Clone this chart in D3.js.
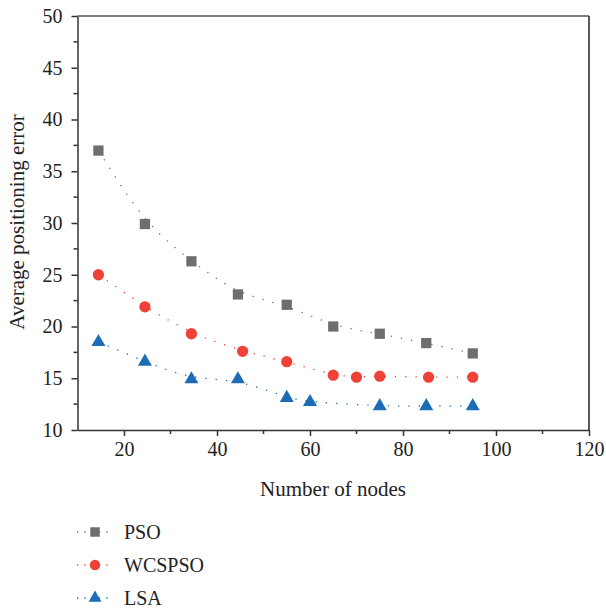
<!DOCTYPE html>
<html>
<head>
<meta charset="utf-8">
<script src="https://cdn.jsdelivr.net/npm/d3@7"></script>
<style>
  body { margin: 0; background: #fff; }
</style>
</head>
<body>
<div id="chart"></div>
<script>
// data
var psoX = [14.5, 24.5, 34.5, 44.5, 55, 65, 75, 85, 95];
var psoY = [37, 29.9, 26.3, 23.1, 22.1, 20.0, 19.3, 18.4, 17.4];

var wcsX = [14.5, 24.5, 34.5, 45.5, 55, 65, 70, 75, 85.5, 95];
var wcsY = [25, 21.9, 19.3, 17.6, 16.6, 15.3, 15.1, 15.2, 15.1, 15.1];

var lsaX = [14.5, 24.5, 34.5, 44.5, 55, 60, 75, 85, 95];
var lsaY = [18.5, 16.6, 14.9, 14.9, 13.1, 12.7, 12.3, 12.3, 12.3];

var xTicks = [20, 40, 60, 80, 100, 120];
var yTicks = [10, 15, 20, 25, 30, 35, 40, 45, 50];
var seriesNames = ["PSO", "WCSPSO", "LSA"];

var width = 606;
var height = 608;
var margin = { left: 77.5, right: 17, top: 16, bottom: 178 };
var font = "Liberation Serif";

var svg = d3.select('#chart')
    .append('svg')
    .attr('width', width)
    .attr('height', height);

var x = d3.scaleLinear()
    .domain([10, 120])
    .range([margin.left, width - margin.right]);
var y = d3.scaleLinear()
    .domain([10, 50])
    .range([height - margin.bottom, margin.top]);

var axisColor = "#333";

// frame: top and right lines
svg.append("line")
    .attr("x1", x(10)).attr("x2", x(120))
    .attr("y1", y(50)).attr("y2", y(50))
    .attr("stroke", "#555").attr("stroke-width", 1.5);
svg.append("line")
    .attr("x1", x(120)).attr("x2", x(120))
    .attr("y1", y(50)).attr("y2", y(10))
    .attr("stroke", "#222").attr("stroke-width", 1.5);

// bottom axis
var xAxis = svg.append("g")
    .attr("transform", "translate(0," + y(10) + ")")
    .call(d3.axisBottom(x).tickValues(xTicks).tickSize(6).tickPadding(6).tickSizeOuter(0));
xAxis.attr("font-family", font);
xAxis.selectAll("text").attr("font-size", 20).attr("fill", "#222");
// minor ticks
xAxis.selectAll(".minor")
    .data(d3.range(10, 121, 10).filter(d => xTicks.indexOf(d) < 0 && d !== 10))
    .enter().append("line")
    .attr("class", "minor")
    .attr("x1", d => x(d)).attr("x2", d => x(d))
    .attr("y1", 0).attr("y2", 4)
    .attr("stroke", axisColor).attr("stroke-width", 1.5);

// left axis
var yAxis = svg.append("g")
    .attr("transform", "translate(" + x(10) + ",0)")
    .call(d3.axisLeft(y).tickValues(yTicks).tickSize(6).tickPadding(9).tickSizeOuter(0));
yAxis.attr("font-family", font);
yAxis.selectAll("text").attr("font-size", 20).attr("fill", "#222");
yAxis.selectAll(".minor")
    .data(d3.range(12.5, 50, 5))
    .enter().append("line")
    .attr("class", "minor")
    .attr("x1", 0).attr("x2", -4)
    .attr("y1", d => y(d)).attr("y2", d => y(d))
    .attr("stroke", axisColor).attr("stroke-width", 1.5);

svg.selectAll(".domain, .tick line").attr("stroke", axisColor).attr("stroke-width", 1.5);

// axis titles
svg.append("text")
    .attr("x", 333)
    .attr("y", 496)
    .attr("text-anchor", "middle")
    .attr("font-family", font)
    .attr("font-size", 21)
    .attr("fill", "#222")
    .text("Number of nodes");

svg.append("text")
    .attr("transform", "translate(24," + 222 + ") rotate(-90)")
    .attr("text-anchor", "middle")
    .attr("font-family", font)
    .attr("font-size", 21)
    .attr("fill", "#222")
    .text("Average positioning error");

// series
var series = [
    { name: seriesNames[0], xs: psoX, ys: psoY, color: "#6d6e71", shape: d3.symbolSquare, size: 105 },
    { name: seriesNames[1], xs: wcsX, ys: wcsY, color: "#ef4136", shape: d3.symbolCircle, size: 100 },
    { name: seriesNames[2], xs: lsaX, ys: lsaY, color: "#1c6db5", shape: d3.symbolTriangle, size: 85 }
];

var line = d3.line()
    .x(d => x(d[0]))
    .y(d => y(d[1]))
    .curve(d3.curveBasis);

series.forEach(function (s) {
    var pts = s.xs.map((v, i) => [v, s.ys[i]]);
    svg.append("path")
        .datum(pts)
        .attr("d", line)
        .attr("fill", "none")
        .attr("stroke", s.color)
        .attr("stroke-width", 1.3)
        .attr("stroke-dasharray", "1.3,9");
    svg.selectAll(null)
        .data(pts)
        .enter()
        .append("path")
        .attr("d", d3.symbol().type(s.shape).size(s.size))
        .attr("transform", d => "translate(" + x(d[0]) + "," + y(d[1]) + ")")
        .attr("fill", s.color);
});

// legend
var legend = svg.append("g");
series.forEach(function (s, i) {
    var ly = 532 + i * 33;
    legend.append("line")
        .attr("x1", 77).attr("x2", 113)
        .attr("y1", ly).attr("y2", ly)
        .attr("stroke", s.color)
        .attr("stroke-width", 1.3)
        .attr("stroke-dasharray", "1.3,6");
    legend.append("path")
        .attr("d", d3.symbol().type(s.shape).size(s.size * 0.85))
        .attr("transform", "translate(95," + ly + ")")
        .attr("fill", s.color);
    legend.append("text")
        .attr("x", 124)
        .attr("y", ly + 7)
        .attr("font-family", font)
        .attr("font-size", 20)
        .attr("fill", "#222")
        .text(s.name);
});
</script>
</body>
</html>
